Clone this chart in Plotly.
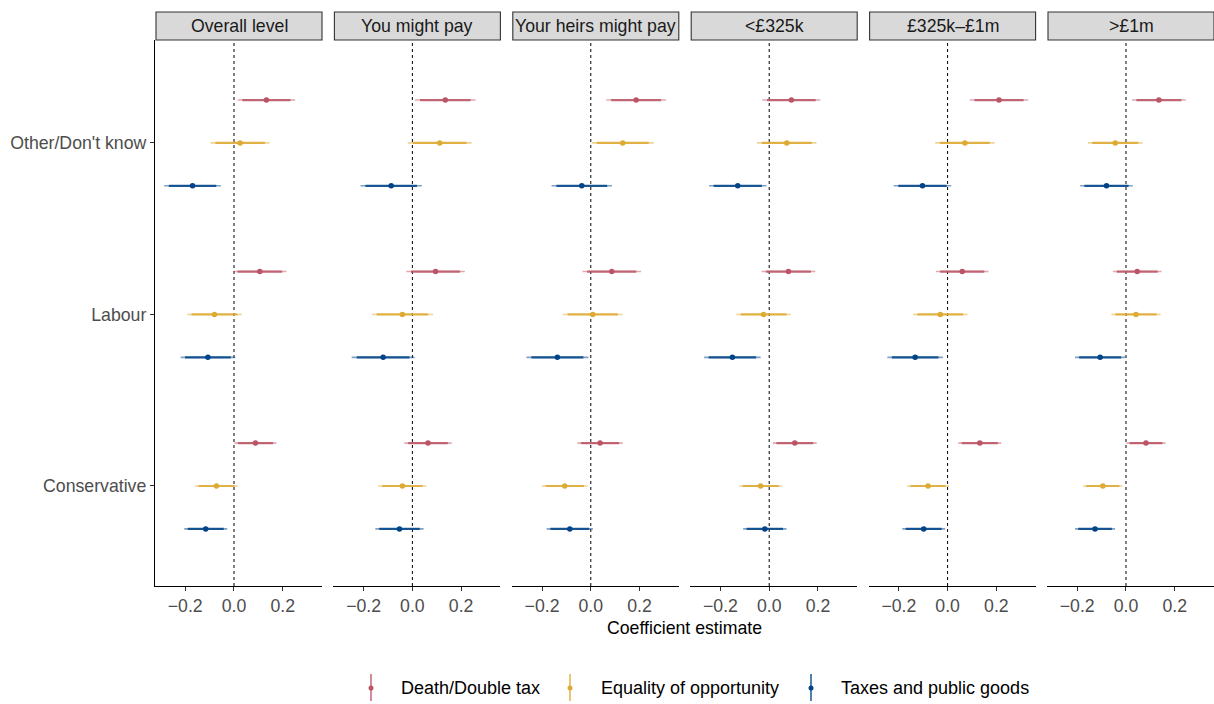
import plotly.graph_objects as go

# Facets, parties and motivation series
panels = ["Overall level", "You might pay", "Your heirs might pay",
          "<£325k", "£325k\u2013£1m", ">£1m"]
parties = ["Conservative", "Labour", "Other/Don't know"]
series = ["Death/Double tax", "Equality of opportunity", "Taxes and public goods"]
series_colors = ["#BB5566", "#DDAA33", "#004488"]
series_offsets = [0.25, 0.0, -0.25]

# Point estimates: one row per facet, columns in party order
death_est = [
    [0.088, 0.106, 0.133],
    [0.064, 0.095, 0.135],
    [0.038, 0.086, 0.186],
    [0.105, 0.079, 0.091],
    [0.132, 0.060, 0.211],
    [0.082, 0.046, 0.135],
]
equality_est = [
    [-0.072, -0.080, 0.025],
    [-0.041, -0.041, 0.112],
    [-0.107, 0.008, 0.131],
    [-0.035, -0.023, 0.072],
    [-0.080, -0.030, 0.071],
    [-0.095, 0.041, -0.044],
]
taxes_est = [
    [-0.116, -0.107, -0.170],
    [-0.053, -0.120, -0.087],
    [-0.086, -0.137, -0.037],
    [-0.018, -0.151, -0.129],
    [-0.098, -0.133, -0.103],
    [-0.127, -0.106, -0.080],
]

# Half-widths of the 95% confidence intervals
death_ci95 = [
    [0.086, 0.109, 0.118],
    [0.097, 0.120, 0.124],
    [0.093, 0.120, 0.122],
    [0.090, 0.110, 0.119],
    [0.088, 0.108, 0.120],
    [0.080, 0.100, 0.110],
]
equality_ci95 = [
    [0.088, 0.112, 0.121],
    [0.099, 0.126, 0.131],
    [0.094, 0.123, 0.127],
    [0.088, 0.112, 0.122],
    [0.086, 0.112, 0.122],
    [0.081, 0.101, 0.112],
]
taxes_ci95 = [
    [0.088, 0.112, 0.116],
    [0.099, 0.129, 0.126],
    [0.095, 0.127, 0.124],
    [0.089, 0.116, 0.118],
    [0.088, 0.114, 0.118],
    [0.082, 0.103, 0.108],
]

x_ticks = [-0.2, 0.0, 0.2]
x_range = [-0.324, 0.361]
y_range = [0.417, 3.6]

estimates = [death_est, equality_est, taxes_est]
ci95 = [death_ci95, equality_ci95, taxes_ci95]
Z_RATIO = 1.645 / 1.96  # 90% interval relative to 95%

FONT = "Liberation Sans, Arial, sans-serif"
FS = 17.7
W, H = 1214, 704
L, T, B = 155, 40, 586
PLOT_W = W - L
PANEL_W = 167
STEP = 178.4


def px_x(px):
    return (px - L) / PLOT_W


def px_y(py):
    return (B - py) / (B - T)


def hex_rgba(h, a):
    h = h.lstrip("#")
    r, g, b = int(h[0:2], 16), int(h[2:4], 16), int(h[4:6], 16)
    return f"rgba({r},{g},{b},{a})"


fig = go.Figure()
layout = dict(
    width=W, height=H,
    margin=dict(l=L, r=0, t=T, b=H - B, pad=0),
    plot_bgcolor="white", paper_bgcolor="white",
    font=dict(family=FONT, size=FS, color="#4D4D4D"),
    showlegend=False,
    yaxis=dict(
        range=y_range, tickvals=[1, 2, 3], ticktext=parties,
        showgrid=False, zeroline=False, showline=True, linecolor="black",
        linewidth=1.3, ticks="outside", ticklen=4, tickcolor="#333333",
        tickwidth=1.1, tickfont=dict(size=FS, color="#4D4D4D"),
        anchor="x", domain=[0, 1],
    ),
)

shapes = []
annotations = []

for k, panel in enumerate(panels):
    xname = "x" if k == 0 else f"x{k + 1}"
    axkey = "xaxis" if k == 0 else f"xaxis{k + 1}"
    left = k * STEP
    layout[axkey] = dict(
        domain=[left / PLOT_W, min(1.0, (left + PANEL_W) / PLOT_W)],
        range=x_range, tickvals=x_ticks, tickformat=".1f",
        showgrid=False, zeroline=False, showline=True, linecolor="black",
        linewidth=1.3, ticks="outside", ticklen=4, tickcolor="#333333",
        tickwidth=1.1, tickfont=dict(size=FS, color="#4D4D4D"),
        anchor="y",
    )

    # reference line at zero
    shapes.append(dict(type="line", xref=xname, yref="paper",
                       x0=0, x1=0, y0=0, y1=1,
                       line=dict(color="black", width=1, dash="3px,3px"),
                       layer="below"))

    # facet strip
    x0p = px_x(L + left + 1)
    x1p = px_x(L + left + PANEL_W)
    shapes.append(dict(type="rect", xref="paper", yref="paper",
                       x0=x0p, x1=x1p, y0=px_y(40), y1=px_y(12),
                       fillcolor="#D9D9D9",
                       line=dict(color="#333333", width=1.1)))
    annotations.append(dict(xref="paper", yref="paper",
                            x=(x0p + x1p) / 2, y=px_y(26),
                            text=panel, showarrow=False,
                            xanchor="center", yanchor="middle",
                            font=dict(family=FONT, size=FS, color="#1A1A1A")))

    for s, name in enumerate(series):
        col = series_colors[s]
        ox, oy, ix, iy, px_, py_ = [], [], [], [], [], []
        for p in range(len(parties)):
            est = estimates[s][k][p]
            hw = ci95[s][k][p]
            yv = p + 1 + series_offsets[s]
            ox += [est - hw, est + hw, None]
            oy += [yv, yv, None]
            ix += [est - hw * Z_RATIO, est + hw * Z_RATIO, None]
            iy += [yv, yv, None]
            px_.append(est)
            py_.append(yv)
        fig.add_trace(go.Scatter(x=ox, y=oy, mode="lines", xaxis=xname, yaxis="y",
                                 line=dict(color=hex_rgba(col, 0.5), width=1.6),
                                 hoverinfo="skip", name=name))
        fig.add_trace(go.Scatter(x=ix, y=iy, mode="lines", xaxis=xname, yaxis="y",
                                 line=dict(color=hex_rgba(col, 0.85), width=2.2),
                                 hoverinfo="skip", name=name))
        fig.add_trace(go.Scatter(x=px_, y=py_, mode="markers", xaxis=xname, yaxis="y",
                                 marker=dict(color=col, size=5.5),
                                 name=name))

# x-axis title shared by all facets
annotations.append(dict(xref="paper", yref="paper", x=px_x(684.5), y=px_y(628),
                        text="Coefficient estimate", showarrow=False,
                        xanchor="center", yanchor="middle",
                        font=dict(family=FONT, size=FS, color="black")))

# legend: vertical point-range keys with labels
key_x = [371, 570, 811]
label_x = [399, 599, 839]
legend_y = 688
for s, name in enumerate(series):
    col = series_colors[s]
    shapes.append(dict(type="line", xref="paper", yref="paper",
                       x0=px_x(key_x[s]), x1=px_x(key_x[s]),
                       y0=px_y(701), y1=px_y(674),
                       line=dict(color=hex_rgba(col, 0.85), width=1.6)))
    shapes.append(dict(type="circle", xref="paper", yref="paper",
                       xsizemode="pixel", ysizemode="pixel",
                       xanchor=px_x(key_x[s]), yanchor=px_y(legend_y),
                       x0=-2.5, x1=2.5, y0=-2.5, y1=2.5,
                       fillcolor=col, line=dict(color=col, width=0)))
    annotations.append(dict(xref="paper", yref="paper",
                            x=px_x(label_x[s]), y=px_y(legend_y),
                            text=name, showarrow=False,
                            xanchor="left", yanchor="middle",
                            font=dict(family=FONT, size=18, color="black")))

layout["shapes"] = shapes
layout["annotations"] = annotations
fig.update_layout(**layout)

fig.write_html("out.html")
